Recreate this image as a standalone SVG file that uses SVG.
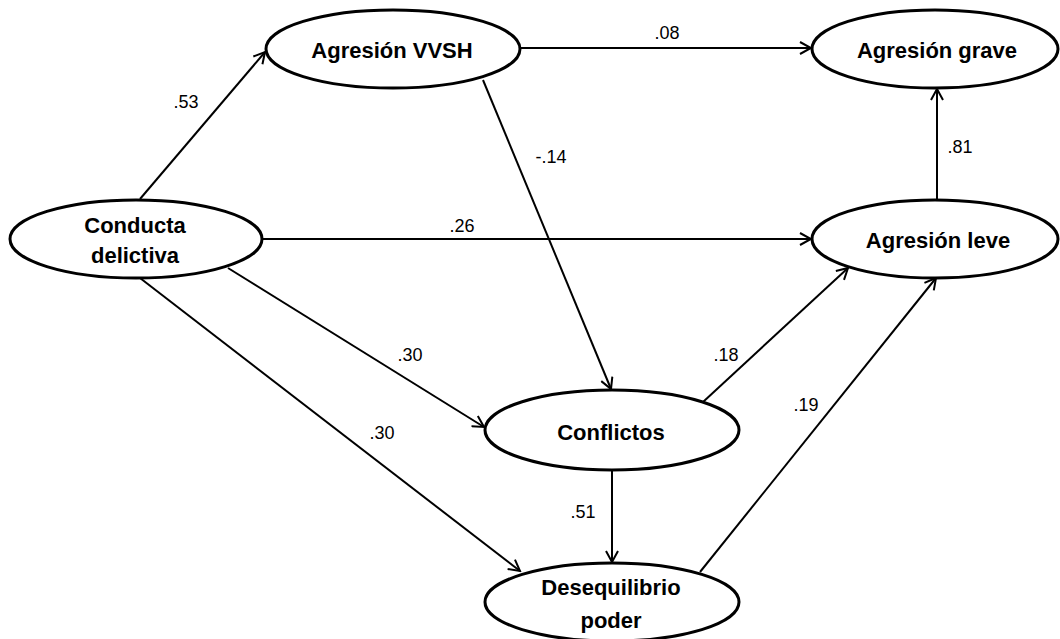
<svg xmlns="http://www.w3.org/2000/svg" width="1060" height="639" viewBox="0 0 1060 639">
  <style>
    .node ellipse { fill: #ffffff; stroke: #000000; stroke-width: 3; }
    .node text { font-family: "Liberation Sans", Arial, sans-serif; font-weight: bold; font-size: 22px; fill: #000000; text-anchor: middle; }
    .edge { stroke: #000000; stroke-width: 2; fill: none; marker-end: url(#arrow); }
    .coef { font-family: "Liberation Sans", Arial, sans-serif; font-size: 18px; fill: #000000; text-anchor: middle; }
  </style>
  <defs>
    <marker id="arrow" viewBox="-12 -7 14 14" refX="0" refY="0" markerWidth="14" markerHeight="14" markerUnits="userSpaceOnUse" orient="auto">
      <path d="M-11,-6 L0,0 L-11,6" fill="none" stroke="#000000" stroke-width="2"/>
    </marker>
  </defs>
  <rect x="0" y="0" width="1060" height="639" fill="#ffffff"/>

  <!-- path connectors with standardized coefficients -->
  <g id="connectors">
    <line class="edge" x1="140" y1="199" x2="265" y2="52"/>
    <line class="edge" x1="520" y1="48" x2="811" y2="48"/>
    <line class="edge" x1="483" y1="80" x2="611" y2="389"/>
    <line class="edge" x1="263" y1="239" x2="811" y2="239"/>
    <line class="edge" x1="937" y1="199" x2="937" y2="89"/>
    <line class="edge" x1="228" y1="268" x2="484" y2="427"/>
    <line class="edge" x1="140" y1="278" x2="520" y2="571"/>
    <line class="edge" x1="703" y1="402" x2="848" y2="268"/>
    <line class="edge" x1="700" y1="572" x2="936" y2="278"/>
    <line class="edge" x1="612" y1="470" x2="612" y2="562"/>

    <text class="coef" x="186" y="108">.53</text>
    <text class="coef" x="667" y="39">.08</text>
    <text class="coef" x="551" y="163">-.14</text>
    <text class="coef" x="960" y="153">.81</text>
    <text class="coef" x="462" y="232">.26</text>
    <text class="coef" x="410" y="361">.30</text>
    <text class="coef" x="726" y="361">.18</text>
    <text class="coef" x="382" y="439">.30</text>
    <text class="coef" x="806" y="411">.19</text>
    <text class="coef" x="583" y="518">.51</text>
  </g>

  <g id="conducta-delictiva" class="node">
    <ellipse cx="136" cy="239" rx="126" ry="39"/>
    <text x="135" y="233">Conducta</text>
    <text x="135" y="263">delictiva</text>
  </g>
  <g id="agresion-vvsh" class="node">
    <ellipse cx="393" cy="49" rx="127" ry="39"/>
    <text x="392" y="58">Agresión VVSH</text>
  </g>
  <g id="agresion-grave" class="node">
    <ellipse cx="935" cy="49" rx="123" ry="39"/>
    <text x="937" y="58">Agresión grave</text>
  </g>
  <g id="agresion-leve" class="node">
    <ellipse cx="935" cy="239" rx="123" ry="39"/>
    <text x="938" y="248">Agresión leve</text>
  </g>
  <g id="conflictos" class="node">
    <ellipse cx="612" cy="430" rx="127" ry="40"/>
    <text x="611" y="440">Conflictos</text>
  </g>
  <g id="desequilibrio-poder" class="node">
    <ellipse cx="612" cy="602" rx="127" ry="39"/>
    <text x="611" y="595">Desequilibrio</text>
    <text x="611" y="628">poder</text>
  </g>
</svg>
